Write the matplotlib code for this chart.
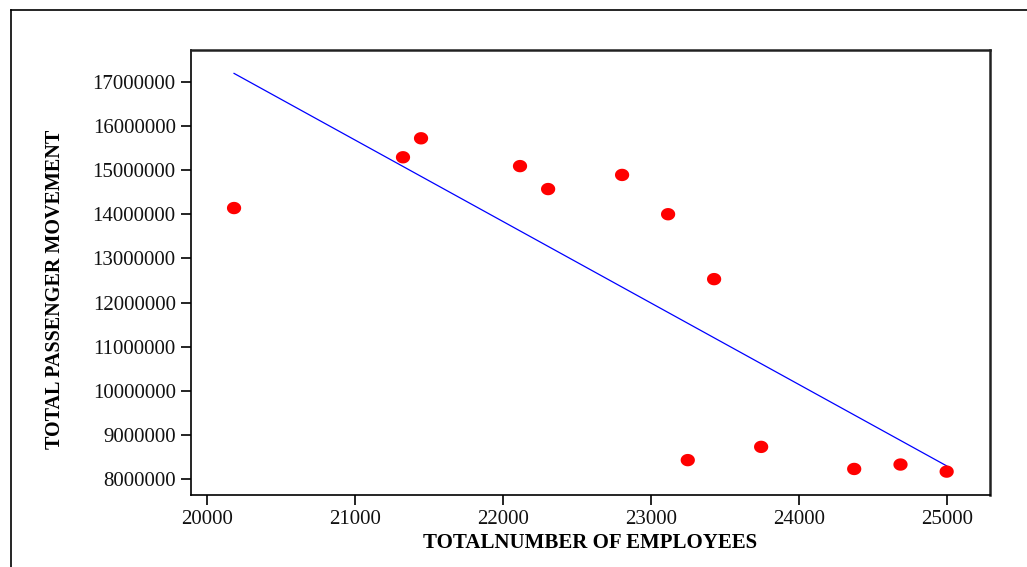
import numpy as np
import matplotlib
matplotlib.use("Agg")
import matplotlib.pyplot as plt
from matplotlib.path import Path
from matplotlib.lines import Line2D

plt.rcParams.update({
    "font.family": "Liberation Serif",
    "font.size": 15,
})

# --- data ---
employees = [20183, 21325, 21447, 22116, 22306, 22806, 23117,
             23428, 23250, 23746, 24375, 24688, 25000]
passengers = [14140000, 15290000, 15720000, 15090000, 14570000, 14890000,
              14000000, 12530000, 8430000, 8730000, 8230000, 8330000, 8170000]
xticks = [20000, 21000, 22000, 23000, 24000, 25000]
yticks = [8000000, 9000000, 10000000, 11000000, 12000000, 13000000,
          14000000, 15000000, 16000000, 17000000]

x = np.array(employees, dtype=float)
y = np.array(passengers, dtype=float)
slope, icpt = np.polyfit(x, y, 1)
xfit = np.array([x.min(), x.max()])
yfit = slope * xfit + icpt

# slightly wide ellipse marker
t = np.linspace(0, 2 * np.pi, 60)
ellipse = Path(np.column_stack([1.15 * np.cos(t), np.sin(t)]), closed=True)

fig = plt.figure(figsize=(10.27, 5.67), dpi=100)
ax = fig.add_axes([191 / 1027, 1 - 495 / 567, 799 / 1027, 445 / 567])

ax.plot(xfit, yfit, color="#0000ff", lw=0.9, zorder=2)
ax.scatter(x, y, s=105, marker=ellipse, color="#ff0000", edgecolor="none", zorder=3)

ax.set_xlim(19892, 25293)
ax.set_ylim(7640000, 17720000)
ax.set_xticks(xticks)
ax.set_yticks(yticks)
ax.set_xticklabels([str(v) for v in xticks])
ax.set_yticklabels([str(v) for v in yticks])
ax.tick_params(direction="out", length=7, width=1.2, labelsize=15, pad=4,
               labelcolor="#111111")

for side in ["left", "bottom"]:
    ax.spines[side].set_linewidth(1.2)
for side in ["top", "right"]:
    ax.spines[side].set_linewidth(1.8)
    ax.spines[side].set_color("#222222")

ax.set_xlabel("TOTALNUMBER OF EMPLOYEES", fontsize=15, fontweight="bold", labelpad=3)
ax.set_ylabel("TOTAL PASSENGER MOVEMENT", fontsize=14.5, fontweight="bold")
ax.yaxis.set_label_coords(-0.158, 0.461)

# outer frame (top and left edges only)
fig.add_artist(Line2D([11 / 1027, 1.0], [1 - 10 / 567, 1 - 10 / 567],
                      transform=fig.transFigure, color="black", lw=1.2))
fig.add_artist(Line2D([11 / 1027, 11 / 1027], [0.0, 1 - 10 / 567],
                      transform=fig.transFigure, color="black", lw=1.2))

fig.savefig("out.png", dpi=100)
